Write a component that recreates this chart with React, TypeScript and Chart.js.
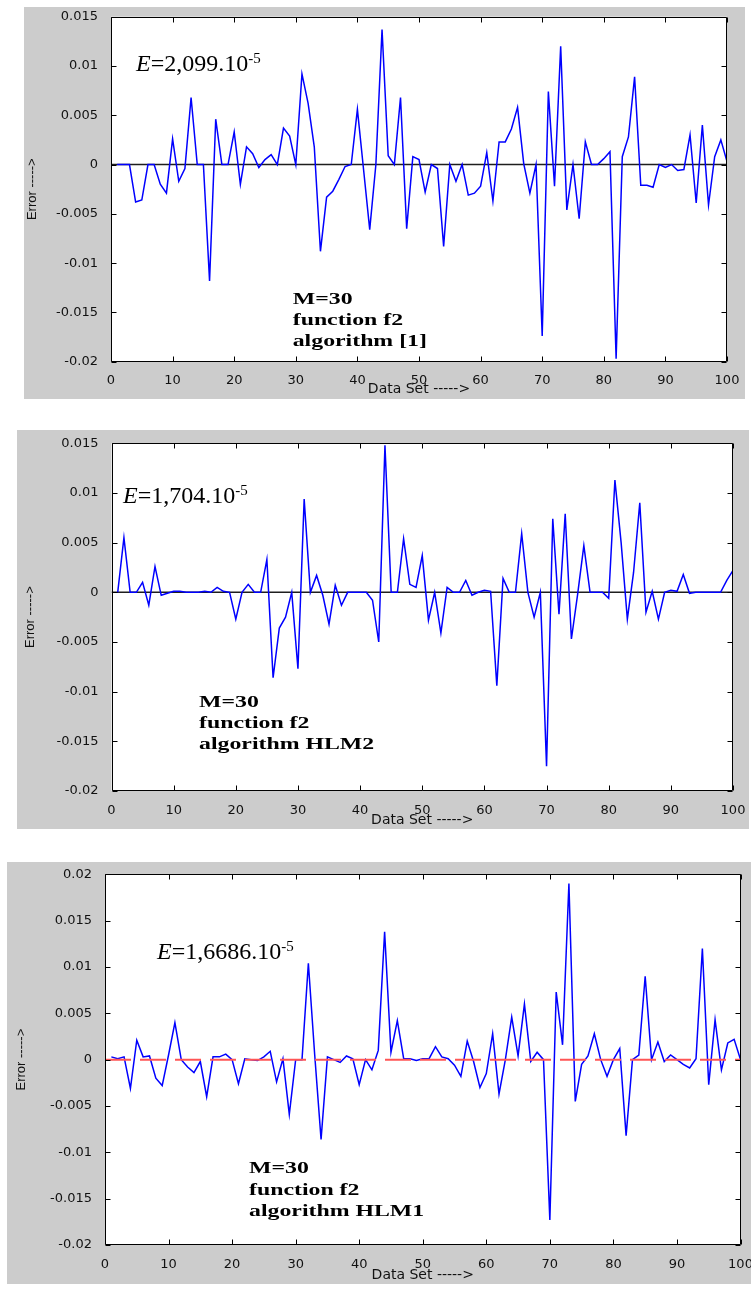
import { useEffect, useRef } from "react";
import { Chart, registerables } from "chart.js";

Chart.register(...registerables);

// ---------- data ----------
const X_TICKS = [0, 10, 20, 30, 40, 50, 60, 70, 80, 90, 100];
const X_TICK_LABELS = ["0", "10", "20", "30", "40", "50", "60", "70", "80", "90", "100"];

const Y_TICKS_015 = [0.015, 0.01, 0.005, 0, -0.005, -0.01, -0.015, -0.02];
const Y_LABELS_015 = ["0.015", "0.01", "0.005", "0", "-0.005", "-0.01", "-0.015", "-0.02"];
const Y_TICKS_02 = [0.02, 0.015, 0.01, 0.005, 0, -0.005, -0.01, -0.015, -0.02];
const Y_LABELS_02 = ["0.02", "0.015", "0.01", "0.005", "0", "-0.005", "-0.01", "-0.015", "-0.02"];

// error for data sets 1..100
const ERROR_ALG1 = [
  0, 0, 0, -0.0038, -0.0036, 0, 0, -0.002, -0.0029, 0.0026,
  -0.0017, -0.0004, 0.0068, 0, 0, -0.0118, 0.0046, 0, 0, 0.0033,
  -0.002, 0.0018, 0.0011, -0.0003, 0.0005, 0.001, 0, 0.0037, 0.0029, 0,
  0.0092, 0.0062, 0.0018, -0.0088, -0.0033, -0.0027, -0.0015, -0.0002, 0, 0.0056,
  -0.0005, -0.0066, 0, 0.0137, 0.0009, 0, 0.0068, -0.0065, 0.0008, 0.0005,
  -0.0028, 0, -0.0004, -0.0083, 0, -0.0017, 0, -0.0031, -0.0029, -0.0022,
  0.0012, -0.0037, 0.0023, 0.0023, 0.0036, 0.0058, 0.0001, -0.0029, 0, -0.0174,
  0.0074, -0.0022, 0.012, -0.0046, 0, -0.0055, 0.0023, 0, 0, 0.0006,
  0.0013, -0.0197, 0.0008, 0.0028, 0.0089, -0.0021, -0.0021, -0.0023, 0, -0.0003,
  0, -0.0006, -0.0005, 0.003, -0.0039, 0.004, -0.0041, 0.0008, 0.0025, 0.0003,
];

const ERROR_HLM2 = [
  0, 0.0055, 0, 0, 0.001, -0.0013, 0.0026, -0.0003, -0.0001, 0.0001,
  0.0001, 0, 0, 0, 0.0001, 0, 0.0005, 0.0001, 0, -0.0027,
  0, 0.0008, 0, 0, 0.0033, -0.0086, -0.0036, -0.0025, 0, -0.0077,
  0.0094, 0, 0.0017, -0.0003, -0.0032, 0.0007, -0.0013, 0, 0, 0,
  0, -0.0008, -0.005, 0.0148, 0, 0, 0.0054, 0.0008, 0.0005, 0.0037,
  -0.0028, 0, -0.0041, 0.0005, 0, 0, 0.0012, -0.0003, 0, 0.0002,
  0.0001, -0.0094, 0.0014, 0, 0, 0.0059, 0, -0.0025, 0, -0.0175,
  0.0074, -0.0022, 0.0079, -0.0047, -0.0002, 0.0047, 0, 0, 0, -0.0006,
  0.0113, 0.005, -0.0027, 0.002, 0.009, -0.002, 0.0001, -0.0027, 0, 0.0002,
  0.0001, 0.0018, -0.0001, 0, 0, 0, 0, 0, 0.0012, 0.0022,
];

const ERROR_HLM1 = [
  0.0003, 0.0001, 0.0003, -0.0031, 0.0021, 0.0003, 0.0004, -0.002, -0.0028, 0.0005,
  0.004, 0, -0.0008, -0.0014, -0.0002, -0.004, 0.0003, 0.0003, 0.0006, 0,
  -0.0026, 0.0001, 0, -0.0001, 0.0003, 0.0009, -0.0024, 0.0001, -0.0059, 0,
  0, 0.0104, 0.0005, -0.0086, 0.0003, 0, -0.0003, 0.0004, 0.0001, -0.0027,
  0, -0.0011, 0.001, 0.0138, 0.0008, 0.0042, 0.0001, 0.0001, -0.0001, 0.0001,
  0.0001, 0.0014, 0.0003, 0.0001, -0.0006, -0.0018, 0.002, -0.0002, -0.003, -0.0015,
  0.0028, -0.0037, 0, 0.0046, 0.0004, 0.006, -0.0002, 0.0008, 0, -0.0173,
  0.0073, 0.0016, 0.019, -0.0045, -0.0005, 0.0004, 0.0028, 0, -0.0018, 0,
  0.0012, -0.0082, 0, 0.0005, 0.009, 0, 0.0019, -0.0002, 0.0005, 0,
  -0.0005, -0.0009, 0.0001, 0.012, -0.0027, 0.0043, -0.0011, 0.0018, 0.0022, 0,
];

const ZERO_X = [0, 100];
const ZERO_Y = [0, 0];

const NOTE_LINES_ALG1 = ["M=30", "function f2", "algorithm [1]"];
const NOTE_LINES_HLM2 = ["M=30", "function f2", "algorithm HLM2"];
const NOTE_LINES_HLM1 = ["M=30", "function f2", "algorithm HLM1"];

// ---------- layout / style ----------
type PanelCfg = {
  series: number[];
  yMin: number;
  yMax: number;
  yTicks: number[];
  yLabels: string[];
  rect: { left: number; top: number; width: number; height: number };
  yAxisW: number;
  padTop: number;
  padRight: number;
  xAxisH: number;
  xTickPad: number;
  xTitlePad: number;
  yTitlePad: number;
  dashedZero: boolean;
  eMain: string;
  eExp: string;
  ePos: [number, number];
  notes: string[];
  notePos: [number, number];
  noteGap: number;
};

const PANELS: PanelCfg[] = [
  {
    series: ERROR_ALG1, yMin: -0.02, yMax: 0.015, yTicks: Y_TICKS_015, yLabels: Y_LABELS_015,
    rect: { left: 24, top: 7, width: 721, height: 392 },
    yAxisW: 87, padTop: 9.7, padRight: 18, xAxisH: 37.3,
    xTickPad: 3, xTitlePad: 1.6, yTitlePad: 0.2, dashedZero: false,
    eMain: "=2,099.10", eExp: "-5", ePos: [4.06, 0.0095],
    notes: NOTE_LINES_ALG1, notePos: [29.5, -0.01414], noteGap: 21,
  },
  {
    series: ERROR_HLM2, yMin: -0.02, yMax: 0.015, yTicks: Y_TICKS_015, yLabels: Y_LABELS_015,
    rect: { left: 17, top: 430, width: 732, height: 399 },
    yAxisW: 94.5, padTop: 13.3, padRight: 16, xAxisH: 38,
    xTickPad: 4, xTitlePad: 0.6, yTitlePad: 6, dashedZero: false,
    eMain: "=1,704.10", eExp: "-5", ePos: [1.85, 0.00897],
    notes: NOTE_LINES_HLM2, notePos: [14.08, -0.01152], noteGap: 21.3,
  },
  {
    series: ERROR_HLM1, yMin: -0.02, yMax: 0.02, yTicks: Y_TICKS_02, yLabels: Y_LABELS_02,
    rect: { left: 7, top: 862, width: 744, height: 422 },
    yAxisW: 98, padTop: 12.3, padRight: 10.5, xAxisH: 39,
    xTickPad: 4, xTitlePad: 0, yTitlePad: 7, dashedZero: true,
    eMain: "=1,6686.10", eExp: "-5", ePos: [8.18, 0.01087],
    notes: NOTE_LINES_HLM1, notePos: [22.66, -0.01227], noteGap: 21.3,
  },
];

const GRAY = "#cccccc";
const TICK_FONT = { family: "DejaVu Sans", size: 13 };

function ErrorPanel({ cfg }: { cfg: PanelCfg }) {
  const ref = useRef<HTMLCanvasElement | null>(null);

  useEffect(() => {
    const canvas = ref.current;
    if (!canvas) return;

    const framePlugin = {
      id: "frame",
      beforeDraw(chart: any) {
        const { ctx, chartArea: a } = chart;
        ctx.save();
        ctx.fillStyle = GRAY;
        ctx.fillRect(0, 0, chart.width, chart.height);
        ctx.fillStyle = "#ffffff";
        ctx.fillRect(a.left, a.top, a.right - a.left, a.bottom - a.top);
        ctx.restore();
      },
      afterDraw(chart: any) {
        const { ctx, chartArea: a, scales } = chart;
        const xs = scales.x;
        const ys = scales.y;
        const L = Math.round(a.left) + 0.5;
        const R = Math.round(a.right) - 0.5;
        const T = Math.round(a.top) + 0.5;
        const B = Math.round(a.bottom) - 0.5;
        ctx.save();
        ctx.strokeStyle = "#000";
        ctx.lineWidth = 1;
        ctx.beginPath();
        ctx.rect(L, T, R - L, B - T);
        ctx.stroke();
        const tl = 5;
        ctx.beginPath();
        for (const v of X_TICKS) {
          const px = Math.round(xs.getPixelForValue(v)) + 0.5;
          ctx.moveTo(px, B);
          ctx.lineTo(px, B - tl);
          ctx.moveTo(px, T);
          ctx.lineTo(px, T + tl);
        }
        for (const v of cfg.yTicks) {
          const py = Math.round(ys.getPixelForValue(v)) + 0.5;
          ctx.moveTo(L, py);
          ctx.lineTo(L + tl, py);
          ctx.moveTo(R, py);
          ctx.lineTo(R - tl, py);
        }
        ctx.stroke();

        // annotations
        ctx.fillStyle = "#000";
        ctx.textAlign = "left";
        ctx.textBaseline = "alphabetic";
        const ex = xs.getPixelForValue(cfg.ePos[0]);
        const ey = ys.getPixelForValue(cfg.ePos[1]);
        ctx.font = 'italic 24px "Liberation Serif"';
        ctx.fillText("E", ex, ey);
        let cx = ex + ctx.measureText("E").width;
        ctx.font = '24px "Liberation Serif"';
        ctx.fillText(cfg.eMain, cx, ey);
        cx += ctx.measureText(cfg.eMain).width;
        ctx.font = '15px "Liberation Serif"';
        ctx.fillText(cfg.eExp, cx, ey - 8);

        const nx = xs.getPixelForValue(cfg.notePos[0]);
        const ny = ys.getPixelForValue(cfg.notePos[1]);
        ctx.font = 'bold 17px "Liberation Serif"';
        cfg.notes.forEach((line, i) => {
          ctx.save();
          ctx.translate(nx, ny + i * cfg.noteGap);
          ctx.scale(1.4, 1);
          ctx.fillText(line, 0, 0);
          ctx.restore();
        });
        ctx.restore();
      },
    };

    const errorData = cfg.series.map((v, i) => ({ x: i + 1, y: v }));
    const zeroData = ZERO_X.map((x, i) => ({ x, y: ZERO_Y[i] }));

    const errorDs: any = {
      label: "Error",
      data: errorData,
      borderColor: "#0000ff",
      borderWidth: 1.5,
      pointRadius: 0,
      tension: 0,
      fill: false,
    };
    const zeroDs: any = cfg.dashedZero
      ? {
          label: "zero",
          data: zeroData,
          borderColor: "rgb(255,85,85)",
          borderWidth: 2,
          borderDash: [26, 9],
          pointRadius: 0,
          fill: false,
        }
      : {
          label: "zero",
          data: zeroData,
          borderColor: "rgb(30,30,30)",
          borderWidth: 1.6,
          pointRadius: 0,
          fill: false,
        };
    const datasets = cfg.dashedZero ? [zeroDs, errorDs] : [errorDs, zeroDs];

    const chart = new Chart(canvas, {
      type: "line",
      data: { datasets },
      plugins: [framePlugin],
      options: {
        responsive: false,
        maintainAspectRatio: false,
        animation: false,
        events: [],
        devicePixelRatio: 1,
        layout: { padding: { left: 0, top: cfg.padTop, right: cfg.padRight, bottom: 0 } },
        plugins: { legend: { display: false }, tooltip: { enabled: false }, title: { display: false } },
        scales: {
          x: {
            type: "linear",
            min: 0,
            max: 100,
            grid: { display: false },
            border: { display: false },
            afterBuildTicks: (scale: any) => {
              scale.ticks = X_TICKS.map((v) => ({ value: v }));
            },
            afterFit: (scale: any) => {
              scale.height = cfg.xAxisH;
              scale.paddingLeft = 0;
              scale.paddingRight = 0;
            },
            ticks: {
              color: "#111",
              font: TICK_FONT,
              padding: cfg.xTickPad,
              maxRotation: 0,
              autoSkip: false,
              callback: (_v: any, i: number) => X_TICK_LABELS[i],
            },
            title: {
              display: true,
              text: "Data Set ----->",
              color: "#111",
              font: { family: "DejaVu Sans", size: 14 },
              padding: { top: 0, bottom: cfg.xTitlePad },
            },
          },
          y: {
            type: "linear",
            min: cfg.yMin,
            max: cfg.yMax,
            grid: { display: false },
            border: { display: false },
            afterBuildTicks: (scale: any) => {
              scale.ticks = cfg.yTicks.map((v) => ({ value: v }));
            },
            afterFit: (scale: any) => {
              scale.width = cfg.yAxisW;
              scale.paddingTop = 0;
              scale.paddingBottom = 0;
            },
            ticks: {
              color: "#111",
              font: TICK_FONT,
              padding: 5,
              autoSkip: false,
              callback: (_v: any, i: number) => cfg.yLabels[i],
            },
            title: {
              display: true,
              text: "Error ----->",
              color: "#111",
              font: { family: "Liberation Sans", size: 13 },
              padding: { top: cfg.yTitlePad, bottom: 0 },
            },
          },
        },
      } as any,
    });

    return () => chart.destroy();
  }, [cfg]);

  return (
    <canvas
      ref={ref}
      width={cfg.rect.width}
      height={cfg.rect.height}
      style={{
        position: "absolute",
        left: cfg.rect.left,
        top: cfg.rect.top,
        width: cfg.rect.width,
        height: cfg.rect.height,
        display: "block",
      }}
    />
  );
}

export default function App() {
  return (
    <div
      style={{
        position: "absolute",
        left: 0,
        top: 0,
        width: 751,
        height: 1289,
        overflow: "hidden",
        background: "#ffffff",
      }}
    >
      {PANELS.map((p, i) => (
        <ErrorPanel key={i} cfg={p} />
      ))}
    </div>
  );
}
